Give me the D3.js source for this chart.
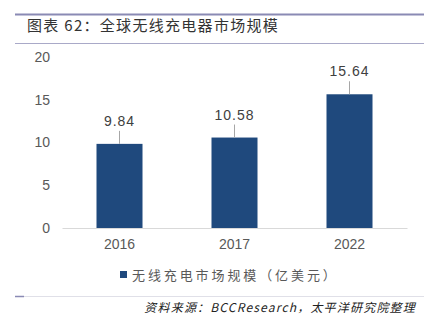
<!DOCTYPE html>
<html><head><meta charset="utf-8">
<script src="https://cdn.jsdelivr.net/npm/d3@7"></script>
<style>
html,body{margin:0;padding:0;background:#fff;}
svg{display:block;}
</style></head>
<body>
<svg id="c" width="431" height="331"></svg>
<script>
const categories = ["2016", "2017", "2022"];
const values = [9.84, 10.58, 15.64];
const valueLabels = ["9.84", "10.58", "15.64"];
const yTicks = [0, 5, 10, 15, 20];
const seriesName = "无线充电市场规模（亿美元）";
const titleText = "图表 62：全球无线充电器市场规模";
const sourceText = "资料来源：BCCResearch，太平洋研究院整理";

const svg = d3.select("#c");
const cjk = "'Noto Sans CJK SC', sans-serif";
const num = "'Liberation Sans', Arial, sans-serif";

// header lines
svg.append("line").attr("x1",15).attr("x2",424).attr("y1",14.5).attr("y2",14.5)
  .attr("stroke","#8a8ab4").attr("stroke-width",2);
svg.append("text").attr("x",27).attr("y",31).text(titleText)
  .attr("font-family",cjk).attr("font-size",15).attr("letter-spacing",1.3).attr("fill","#333");
svg.append("line").attr("x1",15).attr("x2",424).attr("y1",43.5).attr("y2",43.5)
  .attr("stroke","#a9a9c8").attr("stroke-width",1);

const x = d3.scaleBand().domain(categories).range([62,407]).paddingInner(0.6).paddingOuter(0.3);
const y = d3.scaleLinear().domain([0,20]).range([228,57]);

// y axis
const ya = svg.append("g").attr("transform","translate(50,0)")
  .call(d3.axisLeft(y).tickValues(yTicks).tickSize(0).tickPadding(0));
ya.select(".domain").remove();
ya.selectAll("text").attr("font-family",num).attr("font-size",14).attr("fill","#595959");

// bars
svg.append("g").selectAll("rect").data(values).join("rect")
  .attr("x",(d,i)=>x(categories[i])).attr("width",x.bandwidth())
  .attr("y",d=>y(d)).attr("height",d=>y(0)-y(d)).attr("fill","#1F497D");

// x axis
const xa = svg.append("g").attr("transform","translate(0,228)")
  .call(d3.axisBottom(x).tickSize(0).tickPadding(11));
xa.select(".domain").attr("stroke","#d9d9d9");
xa.selectAll("text").attr("font-family",num).attr("font-size",14).attr("fill","#595959");

// leader lines + labels
const lab = svg.append("g");
lab.selectAll("line").data(values).join("line")
  .attr("x1",(d,i)=>x(categories[i])+x.bandwidth()/2).attr("x2",(d,i)=>x(categories[i])+x.bandwidth()/2)
  .attr("y1",d=>y(d)).attr("y2",d=>y(d)-13).attr("stroke","#a6a6a6").attr("stroke-width",1);
lab.selectAll("text").data(values).join("text")
  .attr("x",(d,i)=>x(categories[i])+x.bandwidth()/2).attr("y",d=>y(d)-18)
  .attr("text-anchor","middle").attr("font-family",num).attr("font-size",14)
  .attr("letter-spacing",1).attr("fill","#404040")
  .text((d,i)=>valueLabels[i]);

// legend
svg.append("rect").attr("x",120).attr("y",271).attr("width",7).attr("height",7).attr("fill","#1F497D");
svg.append("text").attr("x",132).attr("y",280).text(seriesName)
  .attr("font-family",cjk).attr("font-size",13).attr("letter-spacing",2.9).attr("fill","#595959");

// footer
svg.append("line").attr("x1",15).attr("x2",424).attr("y1",296.5).attr("y2",296.5)
  .attr("stroke","#e0e0e8").attr("stroke-width",1);
svg.append("line").attr("x1",15).attr("x2",24).attr("y1",296.5).attr("y2",296.5)
  .attr("stroke","#8a8ab4").attr("stroke-width",1.5);
svg.append("text").attr("x",416).attr("y",312).attr("text-anchor","end").text(sourceText)
  .attr("font-family",cjk).attr("font-size",12).attr("font-style","italic").attr("letter-spacing",1.2).attr("fill","#222");
</script>
</body></html>
